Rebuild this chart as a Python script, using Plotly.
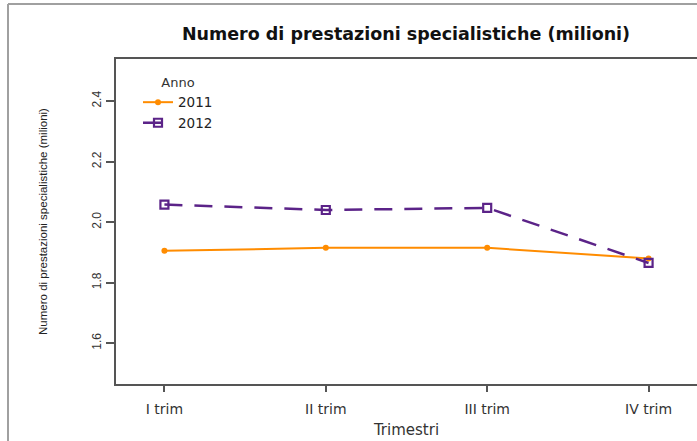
import plotly.graph_objects as go

quarters = ["I trim", "II trim", "III trim", "IV trim"]
x_pos = [1, 2, 3, 4]
values_2011 = [1.905, 1.915, 1.915, 1.88]
values_2012 = [2.058, 2.04, 2.047, 1.865]
y_ticks = [1.6, 1.8, 2.0, 2.2, 2.4]
y_tick_labels = ["1.6", "1.8", "2.0", "2.2", "2.4"]

ORANGE = "#FF8C00"
PURPLE = "#5B2388"

fig = go.Figure()
fig.add_trace(go.Scatter(
    x=x_pos, y=values_2011, name="2011", mode="lines+markers",
    line=dict(color=ORANGE, width=2),
    marker=dict(symbol="circle", size=6, color=ORANGE),
))
fig.add_trace(go.Scatter(
    x=x_pos, y=values_2012, name="2012", mode="lines+markers",
    line=dict(color=PURPLE, width=2.5, dash="18px,12px"),
    marker=dict(symbol="square-open", size=8, color=PURPLE, line=dict(width=2.2, color=PURPLE)),
))

W, H = 697, 441
L, T, B = 116, 59, 57
PW, PH = W - L, H - T - B


def px_x(v):
    return (v - L) / PW


def px_y(v):
    return (H - B - v) / PH


fig.update_layout(
    width=W, height=H,
    paper_bgcolor="white", plot_bgcolor="white",
    margin=dict(l=L, r=0, t=T, b=B, autoexpand=False),
    title=dict(
        text="<b>Numero di prestazioni specialistiche (milioni)</b>",
        x=406 / W, xanchor="center", y=1 - 34 / H, yanchor="middle",
        font=dict(family="DejaVu Sans", size=17.5, color="#111111"),
    ),
    font=dict(family="DejaVu Sans", color="#333333"),
    showlegend=True,
    legend=dict(
        x=px_x(138), y=px_y(70), xanchor="left", yanchor="top",
        bgcolor="rgba(0,0,0,0)",
        title=dict(text="Anno", side="top center", font=dict(size=13, color="#333333")),
        font=dict(size=13.5, color="#222222"),
        tracegroupgap=0, itemwidth=30,
    ),
    xaxis=dict(
        range=[0.7, 4.3], tickvals=x_pos, ticktext=quarters,
        showgrid=False, zeroline=False,
        showline=True, linecolor="#555555", linewidth=1.5, mirror=True,
        ticks="outside", ticklen=6, tickcolor="#555555", tickwidth=1.5,
        ticklabelstandoff=5,
        tickfont=dict(family="DejaVu Sans", size=14, color="#333333"),
        title=dict(text="Trimestri", standoff=9,
                   font=dict(family="DejaVu Sans", size=15, color="#333333")),
        automargin=False,
    ),
    yaxis=dict(
        range=[1.465, 2.539], tickvals=y_ticks, ticktext=y_tick_labels,
        showgrid=False, zeroline=False,
        showline=True, linecolor="#555555", linewidth=1.5, mirror=False,
        ticks="outside", ticklen=8, tickcolor="#555555", tickwidth=1.5,
        tickangle=-90,
        tickfont=dict(family="Liberation Sans Narrow, Liberation Sans", size=12, color="#333333"),
        title=dict(text="Numero di prestazioni specialistiche (milioni)", standoff=40,
                   font=dict(family="Liberation Sans Narrow, Liberation Sans", size=11.5, color="#222222")),
        automargin=False,
    ),
    shapes=[
        dict(type="line", xref="paper", yref="paper",
             x0=px_x(8), x1=px_x(8), y0=px_y(4), y1=px_y(445),
             line=dict(color="#A0A0A0", width=2)),
        dict(type="line", xref="paper", yref="paper",
             x0=px_x(8), x1=px_x(700), y0=px_y(4), y1=px_y(4),
             line=dict(color="#A0A0A0", width=2)),
    ],
)

fig.write_html(
    "out.html",
    config={"displayModeBar": False},
    post_script="document.body.style.margin='0';document.body.style.overflow='hidden';",
)
